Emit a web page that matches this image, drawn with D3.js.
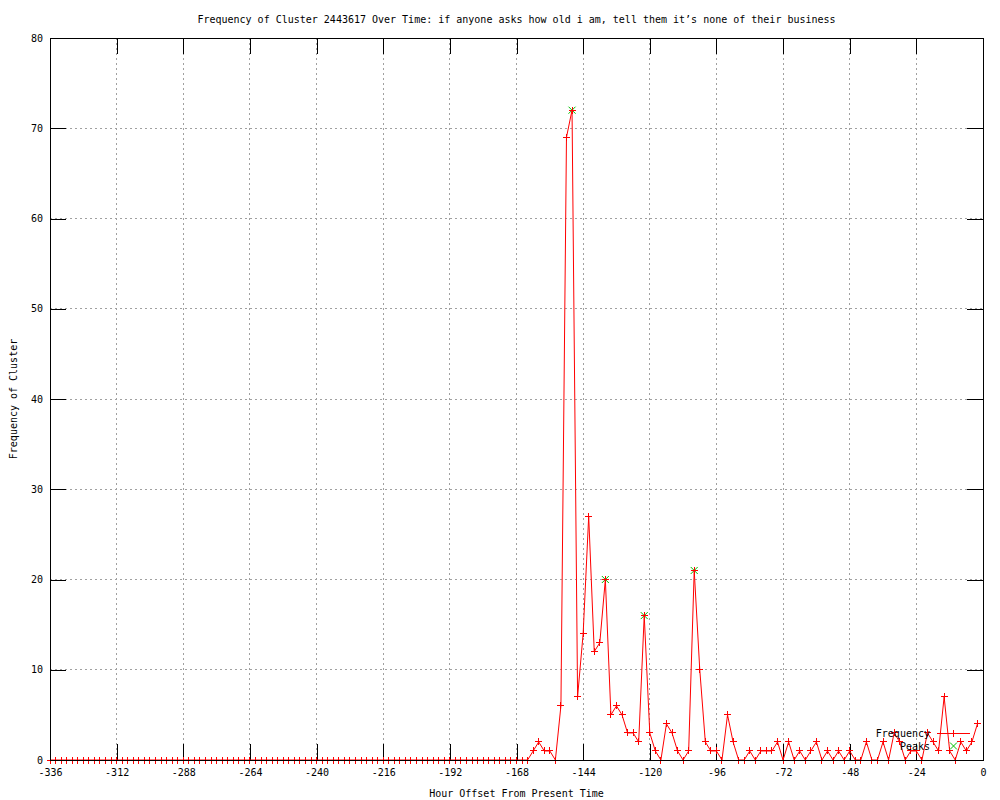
<!DOCTYPE html>
<html>
<head>
<meta charset="utf-8">
<script src="https://cdn.jsdelivr.net/npm/d3@7"></script>
<style>
	body { margin: 0; background: #fff; }
	svg text { font-family: "DejaVu Sans Mono", monospace; font-size: 10px; fill: #000; }
</style>
</head>
<body>
<svg id="svg_elem"></svg>
<script>
//define constants
const svgWidth = 1000;
const svgHeight = 800;
const margin = {top: 38, right: 17, bottom: 40, left: 50};
const tickLen = 16;
const markSize = 3.5;

//chart data: hour offsets (every 2 hours) and cluster frequency
const hours = [
	-336, -334, -332, -330, -328, -326, -324, -322, -320, -318,
	-316, -314, -312, -310, -308, -306, -304, -302, -300, -298,
	-296, -294, -292, -290, -288, -286, -284, -282, -280, -278,
	-276, -274, -272, -270, -268, -266, -264, -262, -260, -258,
	-256, -254, -252, -250, -248, -246, -244, -242, -240, -238,
	-236, -234, -232, -230, -228, -226, -224, -222, -220, -218,
	-216, -214, -212, -210, -208, -206, -204, -202, -200, -198,
	-196, -194, -192, -190, -188, -186, -184, -182, -180, -178,
	-176, -174, -172, -170, -168, -166, -164,
	-162, -160, -158, -156, -154, -152, -150, -148, -146, -144,
	-142, -140, -138, -136, -134, -132, -130, -128, -126, -124,
	-122, -120, -118, -116, -114, -112, -110, -108, -106, -104,
	-102, -100, -98, -96, -94, -92, -90, -88, -86, -84,
	-82, -80, -78, -76, -74, -72, -70, -68, -66, -64,
	-62, -60, -58, -56, -54, -52, -50, -48, -46, -44,
	-42, -40, -38, -36, -34, -32, -30, -28, -26, -24,
	-22, -20, -18, -16, -14, -12, -10, -8, -6, -4,
	-2
];
const frequency = [
	0, 0, 0, 0, 0, 0, 0, 0, 0, 0,
	0, 0, 0, 0, 0, 0, 0, 0, 0, 0,
	0, 0, 0, 0, 0, 0, 0, 0, 0, 0,
	0, 0, 0, 0, 0, 0, 0, 0, 0, 0,
	0, 0, 0, 0, 0, 0, 0, 0, 0, 0,
	0, 0, 0, 0, 0, 0, 0, 0, 0, 0,
	0, 0, 0, 0, 0, 0, 0, 0, 0, 0,
	0, 0, 0, 0, 0, 0, 0, 0, 0, 0,
	0, 0, 0, 0, 0, 0, 0,
	1, 2, 1, 1, 0, 6, 69, 72, 7, 14,
	27, 12, 13, 20, 5, 6, 5, 3, 3, 2,
	16, 3, 1, 0, 4, 3, 1, 0, 1, 21,
	10, 2, 1, 1, 0, 5, 2, 0, 0, 1,
	0, 1, 1, 1, 2, 0, 2, 0, 1, 0,
	1, 2, 0, 1, 0, 1, 0, 1, 0, 0,
	2, 0, 0, 2, 0, 3, 2, 0, 1, 1,
	0, 3, 2, 1, 7, 1, 0, 2, 1, 2,
	4
];

//detected peaks
const peakHours = [-148, -136, -122, -104];
const peakValues = [72, 20, 16, 21];

//axis ticks
const xTicks = [-336, -312, -288, -264, -240, -216, -192, -168, -144, -120, -96, -72, -48, -24, 0];
const yTicks = [0, 10, 20, 30, 40, 50, 60, 70, 80];

//text
const titleText = 'Frequency of Cluster 2443617 Over Time: if anyone asks how old i am, tell them it\u2019s none of their business';
const xLabel = 'Hour Offset From Present Time';
const yLabel = 'Frequency of Cluster';
const legendNames = ['Frequency', 'Peaks'];

var data = hours.map((h, i) => ({hour: h, value: frequency[i]}));
var peaks = peakHours.map((h, i) => ({hour: h, value: peakValues[i]}));

//configure svg window
var svg = d3.select('#svg_elem')
	.attr('width', svgWidth)
	.attr('height', svgHeight);

//scales
var xScale = d3.scaleLinear()
	.domain([-336, 0])
	.range([margin.left, svgWidth - margin.right]);
var yScale = d3.scaleLinear()
	.domain([0, 80])
	.range([svgHeight - margin.bottom, margin.top]);

const x0 = xScale.range()[0], x1 = xScale.range()[1];
const y0 = yScale.range()[0], y1 = yScale.range()[1];

//grid
var grid = svg.append('g')
	.attr('stroke', '#a0a0a0')
	.attr('stroke-dasharray', '2,3')
	.attr('shape-rendering', 'crispEdges');
grid.selectAll('.vgrid')
	.data(xTicks.slice(1, -1))
	.enter()
	.append('line')
		.attr('x1', d => xScale(d)).attr('x2', d => xScale(d))
		.attr('y1', y1).attr('y2', y0);
grid.selectAll('.hgrid')
	.data(yTicks.slice(1, -1))
	.enter()
	.append('line')
		.attr('x1', x0).attr('x2', x1)
		.attr('y1', d => yScale(d)).attr('y2', d => yScale(d));

//axes (ticks point inward, mirrored on top and right)
var xAxis = svg.append('g')
	.attr('transform', `translate(0, ${y0})`)
	.call(d3.axisBottom(xScale).tickValues(xTicks).tickSize(-tickLen).tickPadding(9));
var xAxisTop = svg.append('g')
	.attr('transform', `translate(0, ${y1})`)
	.call(d3.axisTop(xScale).tickValues(xTicks).tickSize(-tickLen).tickFormat(''));
var yAxis = svg.append('g')
	.attr('transform', `translate(${x0}, 0)`)
	.call(d3.axisLeft(yScale).tickValues(yTicks).tickSize(-tickLen).tickPadding(7));
var yAxisRight = svg.append('g')
	.attr('transform', `translate(${x1}, 0)`)
	.call(d3.axisRight(yScale).tickValues(yTicks).tickSize(-tickLen).tickFormat(''));

[xAxis, xAxisTop, yAxis, yAxisRight].forEach(a => {
	a.select('.domain').remove();
	a.attr('font-family', null).attr('font-size', null);
	a.selectAll('line').attr('stroke', '#000').attr('shape-rendering', 'crispEdges');
});
xAxis.selectAll('text').text(d => d < 0 ? '\u2212' + Math.abs(d) : d).text(d => d < 0 ? '-' + Math.abs(d) : d);

//frequency line
var line = d3.line()
	.x(d => xScale(d.hour))
	.y(d => yScale(d.value));

//cross marker paths
function plusPath(x, y){
	return `M${x - markSize},${y}H${x + markSize}M${x},${y - markSize}V${y + markSize}`;
}
function xPath(x, y){
	return `M${x - markSize},${y - markSize}L${x + markSize},${y + markSize}M${x - markSize},${y + markSize}L${x + markSize},${y - markSize}`;
}

//peaks (green x)
svg.append('g')
	.selectAll('.peak')
	.data(peaks)
	.enter()
	.append('path')
		.classed('peak', true)
		.attr('d', d => xPath(xScale(d.hour), yScale(d.value)))
		.attr('stroke', '#00c000')
		.attr('fill', 'none');

svg.append('path')
	.datum(data)
	.attr('d', line)
	.attr('fill', 'none')
	.attr('stroke', '#ff0000')
	.attr('stroke-width', 1);

svg.append('g')
	.selectAll('.pt')
	.data(data)
	.enter()
	.append('path')
		.classed('pt', true)
		.attr('d', d => plusPath(xScale(d.hour), yScale(d.value)))
		.attr('stroke', '#ff0000')
		.attr('fill', 'none')
		.attr('shape-rendering', 'crispEdges');

//border
svg.append('rect')
	.attr('x', x0)
	.attr('y', y1)
	.attr('width', x1 - x0)
	.attr('height', y0 - y1)
	.attr('fill', 'none')
	.attr('stroke', '#000')
	.attr('shape-rendering', 'crispEdges');

//legend
var legend = svg.append('g');
legendNames.forEach((name, i) => {
	let ly = 733 + i * 13;
	legend.append('text')
		.attr('x', 930)
		.attr('y', ly)
		.attr('dy', '0.35em')
		.attr('text-anchor', 'end')
		.text(name);
	if(i == 0){
		legend.append('line')
			.attr('x1', 937).attr('x2', 970)
			.attr('y1', ly).attr('y2', ly)
			.attr('stroke', '#ff0000')
			.attr('shape-rendering', 'crispEdges');
		legend.append('path')
			.attr('d', plusPath(953.5, ly))
			.attr('stroke', '#ff0000')
			.attr('shape-rendering', 'crispEdges');
	}
	else{
		legend.append('path')
			.attr('d', xPath(953.5, ly))
			.attr('stroke', '#00c000');
	}
});

//title and axis labels
svg.append('text')
	.attr('x', (x0 + x1) / 2)
	.attr('y', 19)
	.attr('dy', '0.35em')
	.attr('text-anchor', 'middle')
	.text(titleText);
svg.append('text')
	.attr('x', (x0 + x1) / 2)
	.attr('y', 793)
	.attr('dy', '0.35em')
	.attr('text-anchor', 'middle')
	.text(xLabel);
svg.append('text')
	.attr('transform', `translate(13, ${(y0 + y1) / 2}) rotate(-90)`)
	.attr('dy', '0.35em')
	.attr('text-anchor', 'middle')
	.text(yLabel);
</script>
</body>
</html>
